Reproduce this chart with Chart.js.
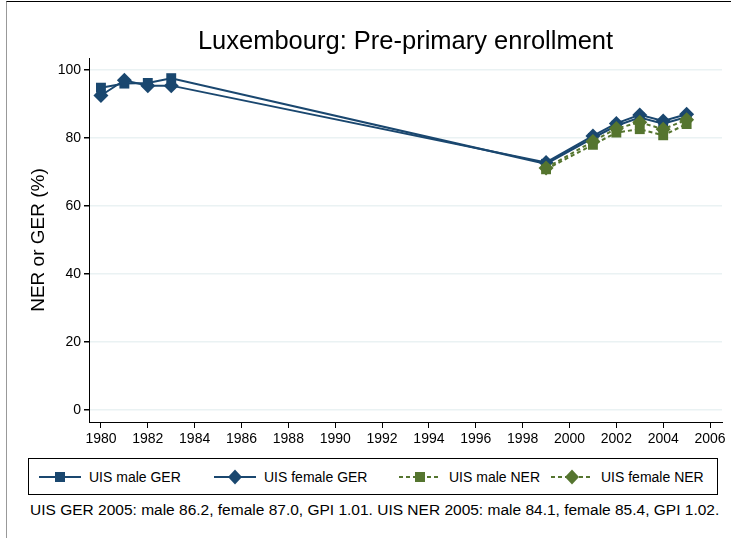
<!DOCTYPE html>
<html>
<head>
<meta charset="utf-8">
<script src="https://cdn.jsdelivr.net/npm/chart.js@4"></script>
<style>
  body { margin: 0; background: #fff; font-family: "Liberation Sans", Arial, sans-serif; }
  #wrap { position: relative; width: 731px; height: 538px; overflow: hidden; }
  #frame { position: absolute; left: 6px; top: 1px; width: 740px; height: 560px; border-top: 1px solid #000; border-left: 1px solid #999; }
  #chart { position: absolute; left: 0; top: 0; }
  #title { position: absolute; left: 89px; width: 633px; top: 26px; text-align: center; font-size: 25.5px; color: #000; white-space: nowrap; }
  #legend { position: absolute; left: 28px; top: 458px; width: 690px; height: 37px; border: 1px solid #000; box-sizing: border-box; font-size: 14px; color: #000; }
  .item { position: absolute; top: 0; height: 35px; display: flex; align-items: center; white-space: nowrap; }
  .item svg { margin-right: 8px; }
  #note { position: absolute; left: 30px; top: 501px; font-size: 15.5px; color: #000; white-space: nowrap; }
</style>
</head>
<body>
<div id="wrap">
  <div id="frame"></div>
  <canvas id="chart" width="731" height="455"></canvas>
  <div id="title">Luxembourg: Pre-primary enrollment</div>
  <div id="legend"></div>
  <div id="note">UIS GER 2005: male 86.2, female 87.0, GPI 1.01. UIS NER 2005: male 84.1, female 85.4, GPI 1.02.</div>
</div>
<script>
// data
const gerYears = [1980, 1981, 1982, 1983, 1999, 2001, 2002, 2003, 2004, 2005];
const maleGER = [94.8, 96.0, 96.2, 97.6, 72.4, 80.0, 83.6, 86.0, 84.2, 86.2];
const femaleGER = [92.5, 97.0, 95.4, 95.4, 72.8, 80.6, 84.3, 86.8, 85.0, 87.0];
const nerYears = [1999, 2001, 2002, 2003, 2004, 2005];
const maleNER = [70.8, 78.0, 81.6, 82.6, 80.8, 84.1];
const femaleNER = [71.2, 79.0, 82.8, 84.6, 82.6, 85.4];
const xTicks = [1980, 1982, 1984, 1986, 1988, 1990, 1992, 1994, 1996, 1998, 2000, 2002, 2004, 2006];
const yTicks = [0, 20, 40, 60, 80, 100];

const BLUE = '#1a476f';
const GREEN = '#55752f';
const FONT = '"Liberation Sans", Arial, sans-serif';

const pairs = (xs, ys) => xs.map((x, i) => ({ x: x, y: ys[i] }));

const series = [
    { label: 'UIS male GER', data: pairs(gerYears, maleGER), color: BLUE, style: 'rect', r: 7, dash: [], order: 4 },
    { label: 'UIS female GER', data: pairs(gerYears, femaleGER), color: BLUE, style: 'rectRot', r: 7.5, dash: [], order: 3 },
    { label: 'UIS male NER', data: pairs(nerYears, maleNER), color: GREEN, style: 'rect', r: 7, dash: [4, 3], order: 2 },
    { label: 'UIS female NER', data: pairs(nerYears, femaleNER), color: GREEN, style: 'rectRot', r: 7.5, dash: [4, 3], order: 1 },
];

const ctx = document.getElementById('chart').getContext('2d');
new Chart(ctx, {
    type: 'line',
    data: {
        datasets: series.map(s => ({
            label: s.label,
            data: s.data,
            borderColor: s.color,
            backgroundColor: s.color,
            borderWidth: 2,
            borderDash: s.dash,
            pointStyle: s.style,
            pointRadius: s.r,
            pointBorderWidth: 0,
            pointBackgroundColor: s.color,
            tension: 0,
            order: s.order,
            fill: false,
        })),
    },
    options: {
        responsive: false,
        animation: false,
        layout: { padding: { left: 0, right: 9, top: 58, bottom: 0 } },
        plugins: {
            legend: { display: false },
            tooltip: { enabled: false },
        },
        scales: {
            x: {
                type: 'linear',
                min: 1979.49,
                max: 2006.51,
                afterBuildTicks: (scale) => { scale.ticks = xTicks.map(v => ({ value: v })); },
                afterFit: (scale) => { scale.height = 33; },
                grid: { drawOnChartArea: false, tickLength: 6, tickColor: '#000', color: '#000' },
                border: { color: '#000', width: 1 },
                ticks: { color: '#000', font: { family: FONT, size: 14 }, padding: 3, maxRotation: 0, autoSkip: false, callback: v => String(v) },
            },
            y: {
                type: 'linear',
                min: -3.53,
                max: 103.53,
                afterBuildTicks: (scale) => { scale.ticks = yTicks.map(v => ({ value: v })); },
                afterFit: (scale) => { scale.width = 89; },
                grid: { color: '#eaf2f3', lineWidth: 1.5, tickLength: 5, tickColor: '#000' },
                border: { color: '#000', width: 1 },
                ticks: { color: '#000', font: { family: FONT, size: 14 }, padding: 3, callback: v => String(v) },
                title: {
                    display: true,
                    text: 'NER or GER (%)',
                    color: '#000',
                    font: { family: FONT, size: 19 },
                    padding: { top: 27, bottom: 0 },
                },
            },
        },
    },
});

// legend with line + marker samples
const legend = document.getElementById('legend');
const lefts = [10, 185, 370, 522];
series.forEach((s, i) => {
    const item = document.createElement('div');
    item.className = 'item';
    item.style.left = lefts[i] + 'px';
    const marker = s.style === 'rect'
        ? '<rect x="16" y="5" width="10" height="10" fill="' + s.color + '"/>'
        : '<polygon points="21,2.5 28,10 21,17.5 14,10" fill="' + s.color + '"/>';
    item.innerHTML = '<svg width="42" height="20"><line x1="0" y1="10" x2="42" y2="10" stroke="' + s.color +
        '" stroke-width="2"' + (s.dash.length ? ' stroke-dasharray="4,3"' : '') + '/>' + marker + '</svg><span>' + s.label + '</span>';
    legend.appendChild(item);
});
</script>
</body>
</html>
